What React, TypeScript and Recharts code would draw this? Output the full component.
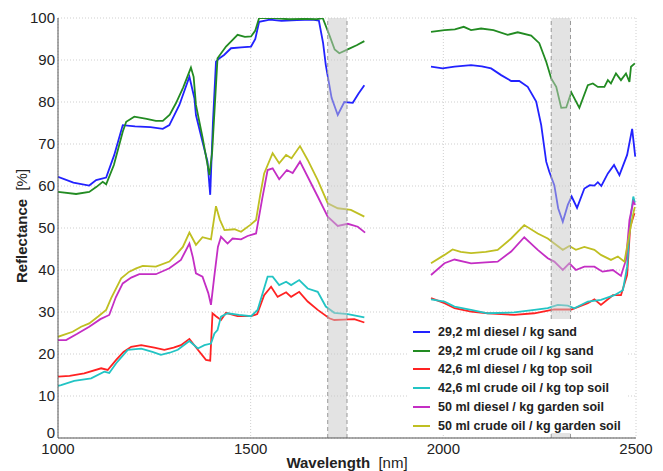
import { LineChart, Line, XAxis, YAxis, CartesianGrid, ReferenceArea, ReferenceLine } from 'recharts'

type Pt = [number, number | null]

// wavelength [nm], reflectance [%] — a null entry breaks the curve (1800–1960 nm gap)
const GAP: Pt = [1880, null]

const dieselSand: Pt[] = [
  [1000, 62.2], [1040, 60.8], [1081, 60.1], [1099, 61.4], [1125, 62], [1146, 67.4], [1168, 74.5], [1200, 74.2],
  [1240, 74], [1272, 73.6], [1289, 74.5], [1315, 79.3], [1341, 86], [1354, 80.9], [1358, 76.9], [1375, 70.5],
  [1388, 65.8], [1395, 57.9], [1402, 75], [1410, 89.6], [1420, 90.5], [1431, 91.2], [1449, 92.8], [1475, 93],
  [1501, 93.2], [1512, 95], [1522, 99.1], [1550, 99.6], [1580, 99.3], [1620, 99.5], [1660, 99.6], [1677, 99.4],
  [1688, 94], [1695, 88.8], [1710, 81], [1726, 76.9], [1743, 80], [1765, 79.8], [1780, 82], [1795, 84],
  GAP,
  [1968, 88.4], [1998, 88], [2029, 88.4], [2072, 88.8], [2100, 88.5], [2124, 88], [2150, 86.4], [2176, 85],
  [2197, 85], [2219, 83.6], [2241, 80.1], [2254, 74.5], [2267, 65.8], [2275, 63.4], [2288, 60.2], [2298, 54.7],
  [2310, 51.5], [2323, 55.5], [2333, 57.5], [2347, 54.8], [2366, 59.4], [2380, 60.2], [2392, 60.1], [2401, 60.9],
  [2410, 60], [2427, 63], [2443, 65], [2457, 62.6], [2477, 67.4], [2490, 73.6], [2498, 67],
]

const crudeSand: Pt[] = [
  [1000, 58.6], [1047, 58.1], [1081, 58.6], [1100, 59.8], [1116, 61], [1125, 60.4], [1145, 65], [1168, 72.9],
  [1177, 75.3], [1198, 76.5], [1230, 76], [1254, 75.5], [1272, 75.5], [1290, 77], [1306, 79.7], [1325, 83.5],
  [1345, 88.2], [1352, 86], [1358, 79.3], [1375, 71.6], [1393, 62.6], [1400, 68], [1414, 90.4], [1436, 93.2],
  [1450, 94.5], [1466, 96], [1485, 95.5], [1501, 95.6], [1512, 97], [1522, 100], [1560, 100], [1600, 99.7],
  [1640, 99.8], [1670, 99.7], [1687, 100], [1704, 96], [1718, 92.5], [1730, 91.6], [1756, 92.7], [1775, 93.5],
  [1795, 94.5],
  GAP,
  [1968, 96.7], [2003, 97.1], [2030, 97.3], [2053, 97.9], [2072, 97.1], [2098, 97.5], [2130, 97.1], [2167, 96],
  [2193, 96.6], [2228, 95.8], [2249, 94], [2267, 89.6], [2280, 85.6], [2293, 83.6], [2306, 78.6], [2319, 78.7],
  [2332, 82.3], [2353, 78.6], [2375, 84], [2388, 84.4], [2401, 83.6], [2418, 83.6], [2427, 85.2], [2435, 84.4],
  [2448, 86.8], [2461, 85.2], [2474, 86.8], [2483, 84.8], [2487, 88.4], [2497, 89.2],
]

const dieselTop: Pt[] = [
  [1000, 14.6], [1030, 14.8], [1068, 15.4], [1112, 16.6], [1129, 16.2], [1151, 18.6], [1170, 20.5], [1190, 21.7],
  [1216, 22.1], [1250, 21.5], [1276, 21], [1300, 21.5], [1319, 22.1], [1341, 23.6], [1363, 21], [1384, 18.6],
  [1395, 18.4], [1401, 29.7], [1410, 29], [1423, 28.1], [1436, 29.8], [1466, 29], [1501, 29], [1517, 29.5],
  [1535, 34], [1553, 36], [1570, 33.6], [1592, 34.7], [1605, 33.6], [1626, 34.8], [1648, 32.5], [1674, 30.5],
  [1704, 28.5], [1717, 28.1], [1740, 28.2], [1769, 28.3], [1795, 27.5],
  GAP,
  [1968, 33.3], [2003, 32.1], [2029, 30.9], [2072, 30.1], [2115, 29.7], [2150, 29.5], [2184, 29.3], [2236, 29.7],
  [2288, 30.6], [2332, 30.6], [2375, 32.1], [2392, 33], [2409, 31.7], [2440, 34], [2461, 34], [2477, 38.8],
  [2485, 50.3], [2496, 53.5],
]

const crudeTop: Pt[] = [
  [1000, 12.4], [1008, 12.6], [1042, 13.6], [1086, 14.2], [1120, 15.8], [1133, 15.5], [1151, 17.8], [1181, 21],
  [1216, 21.3], [1245, 20.5], [1267, 19.8], [1290, 20.3], [1311, 21], [1341, 23.1], [1363, 21.3], [1380, 22.1],
  [1397, 22.5], [1406, 24.9], [1414, 25.7], [1423, 28.9], [1440, 29.7], [1470, 29.3], [1501, 29], [1518, 30.5],
  [1544, 38.4], [1557, 38.4], [1574, 36.4], [1592, 37.2], [1605, 36.4], [1626, 37.6], [1648, 35.6], [1674, 34.8],
  [1695, 31.3], [1717, 29.8], [1752, 29.5], [1795, 28.7],
  GAP,
  [1968, 33], [2003, 32.5], [2029, 31.3], [2072, 30.5], [2115, 29.7], [2184, 29.9], [2236, 30.5], [2271, 30.9],
  [2297, 31.7], [2323, 31.5], [2340, 30.9], [2375, 32.5], [2409, 32.9], [2444, 34], [2466, 35.2], [2477, 40.8],
  [2485, 51.9], [2493, 57.5], [2497, 56],
]

const dieselGarden: Pt[] = [
  [1000, 23.3], [1021, 23.3], [1050, 24.8], [1081, 26.5], [1110, 28.3], [1133, 29.3], [1150, 33.5], [1168, 36.8],
  [1190, 38.2], [1211, 39], [1254, 39], [1289, 40.4], [1319, 42.4], [1341, 46.3], [1350, 43], [1358, 39.2],
  [1375, 38.4], [1390, 34.5], [1397, 31.7], [1405, 38], [1415, 45.5], [1423, 47.9], [1440, 46.3], [1453, 47.5],
  [1475, 47.3], [1492, 48.1], [1514, 48.7], [1530, 57], [1544, 63.8], [1557, 64.2], [1574, 61.6], [1594, 63.8],
  [1609, 63.1], [1628, 65.8], [1648, 62.2], [1674, 57.5], [1700, 52.7], [1726, 50.5], [1752, 51], [1778, 50.3],
  [1797, 48.9],
  GAP,
  [1968, 38.8], [2003, 41.6], [2029, 42.5], [2072, 41.6], [2110, 41.8], [2141, 42], [2176, 44.4], [2210, 47.8],
  [2245, 44.8], [2271, 42.8], [2288, 42], [2310, 40], [2327, 41.6], [2344, 40], [2366, 40.8], [2392, 40.8],
  [2413, 39.6], [2440, 40], [2461, 38.6], [2474, 42.4], [2483, 51.9], [2493, 56.3], [2498, 55.5],
]

const crudeGarden: Pt[] = [
  [1000, 24.1], [1038, 25.3], [1060, 26.5], [1081, 27.3], [1105, 29], [1125, 30.5], [1138, 33.3], [1164, 38],
  [1185, 39.6], [1203, 40.4], [1220, 41], [1254, 40.8], [1289, 42], [1310, 44], [1324, 45.5], [1341, 48.9],
  [1358, 46], [1375, 47.8], [1397, 47.3], [1403, 51], [1410, 55.2], [1420, 52], [1432, 49.5], [1458, 49.7],
  [1475, 49.1], [1500, 50.8], [1514, 51.9], [1525, 58], [1535, 63], [1557, 67.8], [1574, 65.4], [1592, 67.4],
  [1606, 66.6], [1628, 69.5], [1648, 66.2], [1674, 61.4], [1700, 55.9], [1726, 54.7], [1760, 54.3], [1795, 52.7],
  GAP,
  [1968, 41.6], [2003, 43.6], [2024, 44.9], [2045, 44.3], [2072, 44], [2110, 44.3], [2141, 44.8], [2176, 47.5],
  [2210, 50.7], [2245, 48.7], [2271, 47.5], [2288, 46.3], [2310, 44.8], [2327, 45.7], [2344, 44.8], [2366, 45.5],
  [2392, 44.8], [2409, 43.6], [2435, 42.4], [2453, 43.2], [2470, 42], [2483, 48.7], [2494, 53.9], [2497, 55],
]

const xTicks = [1000, 1500, 2000, 2500]
const yTicks = [0, 10, 20, 30, 40, 50, 60, 70, 80, 90, 100]
const bands = [[1700, 1750], [2280, 2330]]

const series = [
  { name: '29,2 ml diesel / kg sand', color: '#2222ff', data: dieselSand },
  { name: '29,2 ml crude oil / kg sand', color: '#228b22', data: crudeSand },
  { name: '42,6 ml diesel / kg top soil', color: '#ff2222', data: dieselTop },
  { name: '42,6 ml crude oil / kg top soil', color: '#22c4c4', data: crudeTop },
  { name: '50 ml diesel / kg garden soil', color: '#c42ec4', data: dieselGarden },
  { name: '50 ml crude oil / kg garden soil', color: '#bfbf22', data: crudeGarden },
]

const toRows = (pts: Pt[]) => pts.map(([w, v]) => ({ w, v }))

const font = 'Arial, "Liberation Sans", Helvetica, sans-serif'

// y tick: the "0" sits a little higher so it clears the "1000" below it
function YTick(props: any) {
  const { x, y, payload } = props
  const lift = payload.value === 0 ? -5 : 0
  return (
    <text x={x} y={y + lift} dy="0.355em" textAnchor="end" fill="#222" fontSize={15} fontFamily={font}>
      {payload.value}
    </text>
  )
}

export default function App() {
  return (
    <div style={{ position: 'absolute', left: 0, top: 0, width: 663, height: 471, background: '#fff', fontFamily: font }}>
      <LineChart width={663} height={471} margin={{ top: 18, right: 27, bottom: 0, left: 0 }}>
        <CartesianGrid stroke="#cfcfcf" strokeDasharray="1 2" horizontalValues={yTicks} verticalValues={xTicks} />
        <XAxis
          dataKey="w" type="number" domain={[1000, 2500]} ticks={xTicks} allowDataOverflow
          height={33} tickLine={false} tickSize={0} tickMargin={5}
          stroke="#555" tick={{ fill: '#222', fontSize: 15, fontFamily: font }}
        />
        <YAxis
          type="number" domain={[0, 100]} ticks={yTicks} allowDataOverflow
          width={58} tickLine={false} tickSize={0} tickMargin={3}
          stroke="#555" tick={<YTick />}
        />
        {series.map(s => (
          <Line
            key={s.name}
            data={toRows(s.data)}
            dataKey="v"
            type="linear"
            stroke={s.color}
            strokeWidth={1.8}
            dot={false}
            activeDot={false}
            connectNulls={false}
            isAnimationActive={false}
          />
        ))}
        {bands.map(([a, b]) => (
          <ReferenceArea key={a} x1={a} x2={b} y1={0} y2={100} fill="#c8c8c8" fillOpacity={0.5} stroke="none" zIndex={450} />
        ))}
        {bands.flat().map(x => (
          <ReferenceLine key={x} x={x} stroke="#999" strokeDasharray="4 3" strokeWidth={1} zIndex={460} />
        ))}
      </LineChart>

      <div style={{
        position: 'absolute', left: 2, top: 226, width: 40, height: 20, lineHeight: '20px',
        transform: 'translate(0, -50%) rotate(-90deg)', transformOrigin: 'center', display: 'flex',
        justifyContent: 'center', whiteSpace: 'nowrap', fontSize: 15, color: '#222',
      }}>
        <span><b>Reflectance</b>&nbsp; [%]</span>
      </div>
      <div style={{ position: 'absolute', left: 0, top: 454, width: 694, textAlign: 'center', fontSize: 15, color: '#222', whiteSpace: 'nowrap' }}>
        <b>Wavelength</b>&nbsp; [nm]
      </div>

      <div style={{ position: 'absolute', left: 408, top: 319, width: 218, height: 114, background: '#fff' }}>
        {series.map((s, i) => (
          <div key={s.name} style={{ position: 'absolute', left: 0, top: 4 + i * 18.7, height: 18, display: 'flex', alignItems: 'center' }}>
            <span style={{ display: 'inline-block', width: 17, height: 2, background: s.color, marginLeft: 5, marginRight: 8 }} />
            <span style={{ fontSize: 12.5, fontWeight: 'bold', color: '#222', whiteSpace: 'nowrap' }}>{s.name}</span>
          </div>
        ))}
      </div>
    </div>
  )
}
